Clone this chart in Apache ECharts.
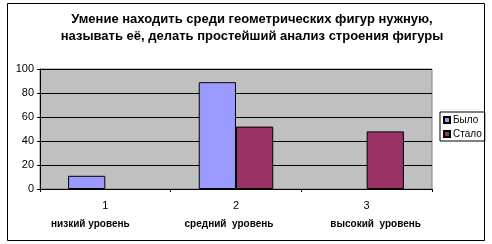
<!DOCTYPE html>
<html>
<head>
<meta charset="utf-8">
<script src="https://cdn.jsdelivr.net/npm/echarts@6/dist/echarts.min.js"></script>
<style>
  html, body { margin: 0; padding: 0; background: #fff; }
  #chart { width: 492px; height: 244px; }
</style>
</head>
<body>
<div id="chart"></div>
<script>
// данные диаграммы
var categories = ['1', '2', '3'];
var levels = ['низкий уровень', 'средний  уровень', 'высокий  уровень'];
var seriesNames = ['Было', 'Стало'];
var bylo = [11, 89, null];
var stalo = [null, 52, 48];
var yTicks = [0, 20, 40, 60, 80, 100];

var chart = echarts.init(document.getElementById('chart'));

var option = {
    animation: false,
    backgroundColor: '#fff',
    textStyle: { fontFamily: 'Liberation Sans, Arial, sans-serif' },
    title: {
        text: 'Умение находить среди геометрических фигур нужную,\nназывать её, делать простейший анализ строения фигуры',
        left: 247,
        top: 6,
        textAlign: 'center',
        textStyle: { fontSize: 13, fontWeight: 'bold', color: '#000', lineHeight: 17 }
    },
    graphic: [{
        type: 'rect',
        shape: { x: 7.5, y: 3.5, width: 477, height: 237 },
        style: { fill: null, stroke: '#000', lineWidth: 1 },
        silent: true,
        z: -1
    }],
    legend: {
        orient: 'vertical',
        left: 440,
        top: 112,
        padding: [3, 3, 2, 3],
        itemGap: 4,
        itemWidth: 6,
        itemHeight: 6,
        borderColor: '#000',
        borderWidth: 1,
        icon: 'rect',
        textStyle: { fontSize: 10, color: '#000', padding: [0, 0, 0, -2] },
        data: seriesNames
    },
    grid: { left: 40, right: 60, top: 69, bottom: 55, show: true, backgroundColor: '#c0c0c0', borderColor: '#808080', borderWidth: 1 },
    xAxis: {
        type: 'category',
        data: categories,
        axisLine: { lineStyle: { color: '#000' } },
        axisTick: { show: true, length: 3, lineStyle: { color: '#000' } },
        axisLabel: {
            interval: 0,
            margin: 7,
            formatter: function (v, i) {
                return '{a|' + v + '}\n{b' + i + '|' + levels[i] + '}';
            },
            rich: {
                a: { fontSize: 11, color: '#000', lineHeight: 19 },
                b0: { fontSize: 10, fontWeight: 'bold', color: '#000', lineHeight: 19, padding: [0, 30, 0, 0] },
                b1: { fontSize: 10, fontWeight: 'bold', color: '#000', lineHeight: 19, padding: [0, 14, 0, 0] },
                b2: { fontSize: 10, fontWeight: 'bold', color: '#000', lineHeight: 19, padding: [0, 0, 0, 18] }
            }
        }
    },
    yAxis: {
        type: 'value',
        min: 0,
        max: 100,
        interval: 20,
        axisLine: { show: true, lineStyle: { color: '#000' } },
        axisTick: { show: true, length: 3, lineStyle: { color: '#000' } },
        axisLabel: { fontSize: 11, color: '#000', margin: 6 },
        splitLine: { lineStyle: { color: '#000', width: 1 } }
    },
    series: [{
        name: seriesNames[0],
        type: 'bar',
        data: bylo,
        barGap: '0%',
        barCategoryGap: '43%',
        itemStyle: { color: '#9999ff', borderColor: '#000', borderWidth: 1 }
    }, {
        name: seriesNames[1],
        type: 'bar',
        data: stalo,
        itemStyle: { color: '#993366', borderColor: '#000', borderWidth: 1 }
    }]
};

chart.setOption(option);
</script>
</body>
</html>
